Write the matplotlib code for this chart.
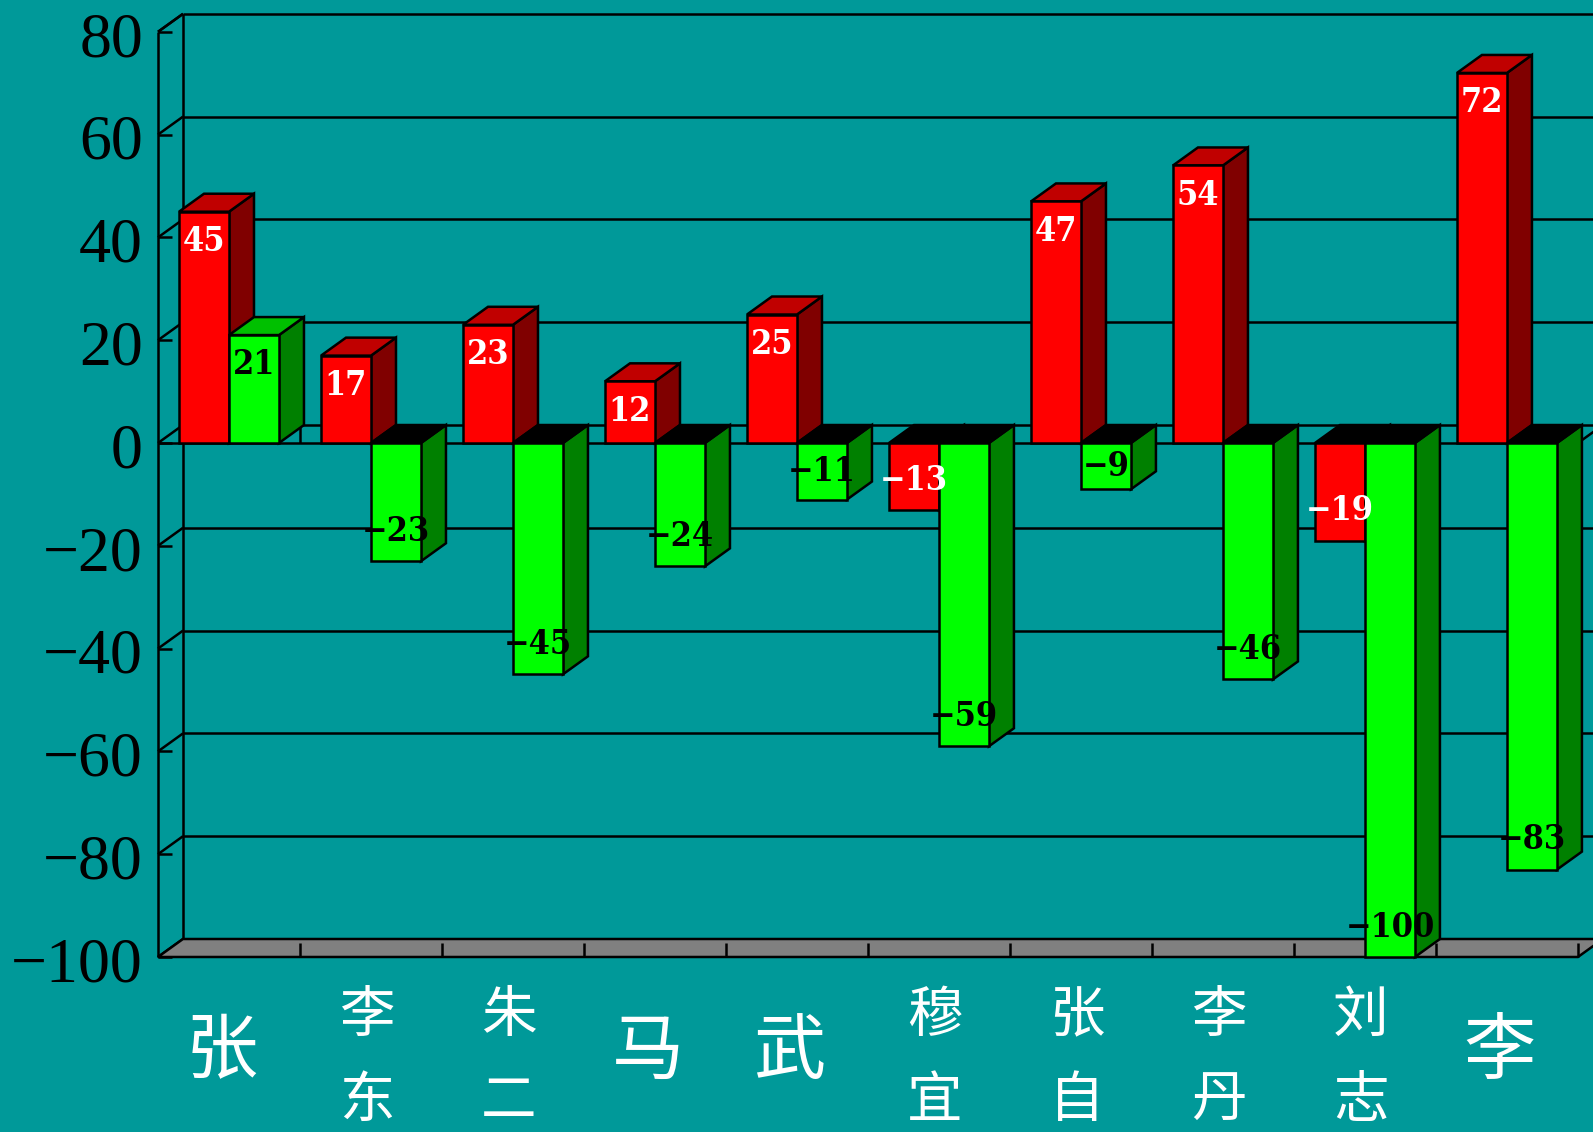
import matplotlib
matplotlib.use("Agg")
import matplotlib.pyplot as plt
from matplotlib.patches import Polygon
from matplotlib import font_manager

# data
names = ["张", "李东", "朱二", "马", "武", "穆宜", "张自", "李丹", "刘志", "李"]
red_vals = [45, 17, 23, 12, 25, -13, 47, 54, -19, 72]
green_vals = [21, -23, -45, -24, -11, -59, -9, -46, -100, -83]
y_ticks = [80, 60, 40, 20, 0, -20, -40, -60, -80, -100]

bg = "#009999"
red_cols = ("#ff0000", "#c00000", "#800000")     # front, top, side
green_cols = ("#00ff00", "#00c000", "#008000")

DX, DY = 0.176, 3.5     # fake 3d depth (x in categories, y in values)
BW = 0.352              # bar width
OFF = 0.148             # gap before the red bar
LW = 1.8

# narrow bold font for the bar values if there is one
cond = [f for f in font_manager.fontManager.ttflist
        if f.stretch == "condensed" and f.name.startswith("DejaVu Serif")]
if cond:
    val_font = dict(family="DejaVu Serif", fontstretch="condensed", fontsize=24.5)
else:
    val_font = dict(family="Liberation Serif", fontsize=25)

fig = plt.figure(figsize=(15.93, 11.32), dpi=100)
fig.patch.set_facecolor(bg)
ax = fig.add_axes([0, 0, 1, 1])
ax.set_facecolor(bg)
ax.set_xlim(-1.1127, 10.106)
ax.set_ylim(-134.05, 86.19)
ax.axis("off")

n = len(names)
ymin, ymax = min(y_ticks), max(y_ticks)
xr = ax.get_xlim()[1]

def line(xs, ys, z=1):
    ax.plot(xs, ys, color="black", lw=LW, zorder=z, solid_capstyle="butt")

#Step 1: walls, gridlines and axis
for v in y_ticks:
    line([DX, xr], [v + DY, v + DY])
    line([0, DX], [v, v + DY])
    line([0, 0.1], [v, v])
    ax.text(-0.106, v - 1.8, str(v).replace("-", "\u2212"), ha="right", va="center",
            fontsize=46, family=["Liberation Serif", "DejaVu Serif"], color="black")
line([DX, DX], [ymin + DY, ymax + DY])
line([0, 0], [ymin, ymax])
line([0, DX], [ymax, ymax + DY])

#Step 2: floor
floor = Polygon([(0, ymin), (n, ymin), (n + DX, ymin + DY), (DX, ymin + DY)],
                closed=True, facecolor="#808080", edgecolor="black", lw=LW, zorder=1.5)
ax.add_patch(floor)
for k in range(1, n + 1):
    line([k, k], [ymin, ymin + DY * 0.78], z=1.6)

#Step 3: zero plane
line([0, n], [0, 0], z=1.6)
line([n, n + DX], [0, DY], z=1.6)
for k in range(1, n + 1):
    line([k, k], [0, DY], z=1.6)

#Step 4: bars
def draw_bar(x0, v, cols):
    x1 = x0 + BW
    front = [(x0, 0), (x1, 0), (x1, v), (x0, v)]
    side = [(x1, 0), (x1 + DX, DY), (x1 + DX, v + DY), (x1, v)]
    if v >= 0:
        top = [(x0, v), (x1, v), (x1 + DX, v + DY), (x0 + DX, v + DY)]
        top_col = cols[1]
    else:
        top = [(x0, 0), (x1, 0), (x1 + DX, DY), (x0 + DX, DY)]
        top_col = "black"
    for pts, c in [(side, cols[2]), (top, top_col), (front, cols[0])]:
        ax.add_patch(Polygon(pts, closed=True, facecolor=c, edgecolor="black",
                             lw=LW, zorder=3, joinstyle="miter"))

def bar_label(x0, v, col):
    off = min(5.8, abs(v) * 0.5)
    y = v - off if v >= 0 else v + off
    ax.text(x0 + BW / 2, y, str(v).replace("-", "\u2212"), ha="center", va="center",
            fontweight="bold", color=col, zorder=10, **val_font)

for k in range(n):
    xr0 = k + OFF
    xg0 = xr0 + BW
    draw_bar(xr0, red_vals[k], red_cols)
    draw_bar(xg0, green_vals[k], green_cols)
    bar_label(xr0, red_vals[k], "white")
    bar_label(xg0, green_vals[k], "black")

#Step 5: category names, written top to bottom
for k, name in enumerate(names):
    if len(name) == 1:
        ax.text(k + 0.45, -118.5, name, ha="center", va="center", fontsize=52,
                color="white", family=["Noto Sans CJK SC", "DejaVu Sans"])
    else:
        ax.text(k + 0.47, -106.0, "\n".join(name), ha="center", va="top", fontsize=40,
                linespacing=1.6, color="white", family=["Noto Sans CJK SC", "DejaVu Sans"])

fig.savefig("out.png", dpi=100, facecolor=bg)
